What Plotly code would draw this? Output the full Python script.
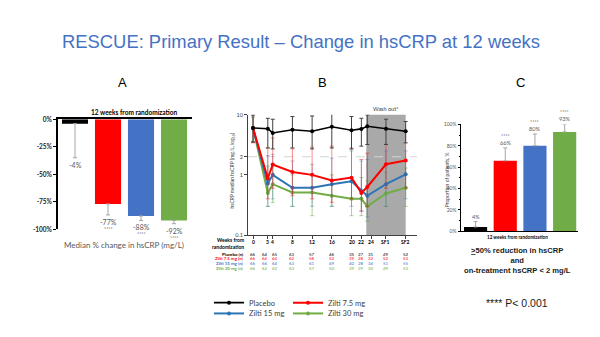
import plotly.graph_objects as go

W, H = 600, 337
def fx(p): return p / W
def fy(p): return 1 - p / H

ARIAL = "Liberation Sans, Arial, sans-serif"
CAL = "Lato, sans-serif"

# ---------------- data ----------------
groups = ["Placebo", "Zilti 7.5 mg", "Zilti 15 mg", "Zilti 30 mg"]
bar_colors = ["#000000", "#FF0000", "#4472C4", "#70AD47"]
line_colors = ["#000000", "#FF0000", "#2E75B6", "#70AD47"]
err_colors = ["#404040", "rgba(255,0,0,0.45)", "rgba(46,117,182,0.40)", "rgba(112,173,71,0.55)"]

# Panel A: median % change in hsCRP at 12 weeks
a_median_change = [-4, -77, -88, -92]
a_err_low = [-35, -87, -92, -95]
a_labels = ["-4%", "-77%", "-88%", "-92%"]
a_stars = ["", "****", "****", "****"]
a_ticks = [0, -25, -50, -75, -100]
a_ticktext = ["0%", "-25%", "-50%", "-75%", "-100%"]

# Panel B: hsCRP median over time (mg/L, log scale)
b_week_labels = ["0", "3", "4", "8", "12", "16", "20", "22", "24", "SF1", "SF2"]
b_week_ticks = [0, 3, 4, 8, 12, 16, 20, 22, 24, 27, 31]
b_week_points = [0, 3, 4, 8, 12, 16, 20, 22, 23.2, 27, 31]
washout = [23.0, 31]
hscrp_threshold = 2

placebo = [6.0, 5.85, 4.97, 5.6, 5.3, 6.3, 5.5, 5.8, 6.4, 5.85, 5.3]
placebo_hi = [9.9, 8.7, 8.4, 9.3, 9.5, 10.5, 9.3, 8.7, 9.9, 8.4, 7.7]
placebo_lo = [3.5, 2.8, 2.7, 2.8, 2.7, 2.8, 2.7, 3.0, 3.2, 3.2, 3.4]
z75 = [6.0, 0.88, 1.48, 1.12, 1.0, 0.81, 0.90, 0.50, 0.63, 1.5, 1.73]
z75_hi = [9.9, 2.8, 4.1, 2.7, 2.9, 3.0, 2.8, 1.8, 2.3, 3.2, 5.3]
z75_lo = [3.4, 0.40, 0.60, 0.45, 0.40, 0.35, 0.40, 0.25, 0.30, 0.60, 0.60]
z15 = [6.0, 0.72, 1.0, 0.61, 0.61, 0.70, 0.78, 0.54, 0.45, 0.70, 1.02]
z15_hi = [9.5, 2.1, 2.2, 1.7, 1.5, 1.9, 2.5, 1.7, 1.8, 2.5, 2.5]
z15_lo = [3.5, 0.30, 0.40, 0.30, 0.30, 0.30, 0.30, 0.25, 0.20, 0.30, 0.40]
z30 = [6.0, 0.50, 0.70, 0.51, 0.51, 0.45, 0.40, 0.40, 0.30, 0.49, 0.61]
z30_hi = [8.9, 1.4, 1.5, 1.0, 1.0, 1.0, 0.9, 0.9, 0.8, 1.1, 1.3]
z30_lo = [3.6, 0.30, 0.35, 0.30, 0.21, 0.30, 0.21, 0.21, 0.17, 0.30, 0.30]

n_placebo = [66, 64, 65, 63, 57, 46, 35, 27, 31, 49, 52]
n_z75 = [66, 64, 64, 62, 58, 52, 39, 28, 32, 52, 53]
n_z15 = [66, 66, 64, 63, 61, 49, 40, 28, 34, 51, 55]
n_z30 = [66, 62, 62, 63, 57, 50, 39, 29, 30, 49, 53]
n_row_labels = ["Placebo (n)", "Zilti 7.5 mg (n)", "Zilti 15 mg (n)", "Zilti 30 mg (n)"]

# Panel C: proportion achieving >=50% reduction and hsCRP < 2 mg/L
c_prop = [4, 66, 80, 93]
c_err_hi = [9, 78, 91, 100]
c_labels = ["4%", "66%", "80%", "93%"]
c_stars = ["", "****", "****", "****"]
c_ticks = [0, 20, 40, 60, 80, 100]
c_ticktext = ["0%", "20%", "40%", "60%", "80%", "100%"]

# ---------------- figure ----------------
fig = go.Figure()

# Panel A
fig.add_trace(go.Bar(
    x=list(range(4)), y=a_median_change, width=0.79,
    marker=dict(color=bar_colors, line=dict(width=0)),
    error_y=dict(type="data", symmetric=False, array=[0] * 4,
                 arrayminus=[v - lo for v, lo in zip(a_median_change, a_err_low)],
                 color="#A6A6A6", thickness=1, width=2),
    xaxis="x", yaxis="y", showlegend=False, hoverinfo="skip"))

# Panel B
series = [(placebo, placebo_hi, placebo_lo), (z75, z75_hi, z75_lo),
          (z15, z15_hi, z15_lo), (z30, z30_hi, z30_lo)]
legend_ids = ["legend", "legend2", "legend3", "legend4"]
for idx in [3, 2, 1, 0]:
    v, hi, lo = series[idx]
    fig.add_trace(go.Scatter(
        x=b_week_points, y=v, name=groups[idx], mode="lines+markers",
        line=dict(color=line_colors[idx], width=2 if idx else 1.6),
        marker=dict(color=line_colors[idx], size=4, symbol="circle"),
        error_y=dict(type="data", symmetric=False,
                     array=[h - m for h, m in zip(hi, v)],
                     arrayminus=[m - l for m, l in zip(v, lo)],
                     color=err_colors[idx], thickness=1, width=2),
        xaxis="x2", yaxis="y2", legend=legend_ids[idx], showlegend=True,
        hoverinfo="skip"))

# Panel C
fig.add_trace(go.Bar(
    x=list(range(4)), y=c_prop, width=0.78,
    marker=dict(color=bar_colors, line=dict(width=0)),
    error_y=dict(type="data", symmetric=False,
                 array=[h - v for h, v in zip(c_err_hi, c_prop)], arrayminus=[0] * 4,
                 color="#A6A6A6", thickness=1, width=2),
    xaxis="x3", yaxis="y3", showlegend=False, hoverinfo="skip"))

# ---------------- annotations ----------------
annotations = []
def ann(text, x, y, size, color="#000000", family=CAL, bold=False, xanchor="center",
        yanchor="middle", xref="paper", yref="paper", **kw):
    annotations.append(dict(text=text, x=x, y=y, xref=xref, yref=yref, showarrow=False,
                            xanchor=xanchor, yanchor=yanchor, borderpad=0,
                            font=dict(size=size, color=color, family=family,
                                      weight="bold" if bold else "normal"), **kw))

ann("RESCUE: Primary Result – Change in hsCRP at 12 weeks", fx(301), fy(38), 18.4,
    color="#4472C4", family=ARIAL)
for letter, px in zip(["A", "B", "C"], [122, 322, 520]):
    ann(letter, fx(px), fy(80), 13, family=ARIAL)

# Panel A texts
ann("12 weeks from randomization", fx(134), fy(110.5), 6.5, bold=True)
ann("Median % change in hsCRP (mg/L)", fx(124), fy(246), 8, color="#595959")
for i in range(4):
    ann(a_labels[i], i, a_err_low[i], 7, color="#595959", xref="x", yref="y",
        yanchor="top", yshift=-2)
    if a_stars[i]:
        ann(a_stars[i], i, a_err_low[i], 5, color="#595959", xref="x", yref="y",
            yanchor="top", yshift=-10)

# Panel B texts
ann("hsCRP median hsCRP (mg/L, log<sub>10</sub>)", fx(232), fy(170), 5, color="#404040",
    textangle=-90)
ann("Wash out*", (washout[0] + washout[1]) / 2, fy(107.5), 5.5, color="#404040", xref="x2")
ann("Weeks from<br>randomization", fx(245), fy(245), 5, bold=True, xanchor="right",
    align="right")
for i, lab in enumerate(b_week_labels):
    ann(lab, b_week_ticks[i], fy(243), 5, bold=True, xref="x2")
row_y = [255.5, 260.2, 264.9, 269.6]
for r, (lab, vals) in enumerate(zip(n_row_labels, [n_placebo, n_z75, n_z15, n_z30])):
    col = bar_colors[r]
    ann(lab, fx(245), fy(row_y[r]), 4.4, color=col, bold=True, xanchor="right")
    for i, n in enumerate(vals):
        shift = -2.5 if i == 1 else (2.5 if i == 2 else 0)
        ann(str(n), b_week_ticks[i], fy(row_y[r]), 4.4, color=col, xref="x2", xshift=shift)

# Panel C texts
ann("Proportion of patients, %", fx(447), fy(180), 5, color="#404040", textangle=-90)
for i in range(4):
    ann(c_labels[i], i, c_err_hi[i], 5.5, color="#595959", xref="x3", yref="y3",
        yanchor="bottom", yshift=1)
    if c_stars[i]:
        ann(c_stars[i], i, c_err_hi[i], 5, color="#595959", xref="x3", yref="y3",
            yanchor="bottom", yshift=8)
ann("12 weeks from randomization", fx(517), fy(238), 4.6, bold=True)
ann("<u>></u>50% reduction in hsCRP<br>and<br>on-treatment hsCRP &lt; 2 mg/L", fx(517),
    fy(261.5), 7.6, family=ARIAL, bold=True, color="#1A1A1A")
ann("**** P&lt; 0.001", fx(517), fy(305), 10.5, family=ARIAL, color="#1A1A1A")

# ---------------- shapes ----------------
shapes = [
    dict(type="rect", xref="x2", yref="y2 domain", x0=washout[0], x1=washout[1], y0=0, y1=1,
         fillcolor="#A9A9A9", line=dict(width=0), layer="below"),
    dict(type="line", xref="x2 domain", yref="y2", x0=0, x1=1,
         y0=hscrp_threshold, y1=hscrp_threshold,
         line=dict(color="#D3D3D3", width=1, dash="dash"), layer="below"),
]

leg_common = dict(bgcolor="rgba(0,0,0,0)", font=dict(size=7.5, color="#404040", family=CAL),
                  xanchor="left", yanchor="middle", itemwidth=30, borderwidth=0)

fig.update_layout(
    width=W, height=H, autosize=False,
    margin=dict(l=0, r=0, t=0, b=0),
    paper_bgcolor="white", plot_bgcolor="white",
    annotations=annotations, shapes=shapes,
    legend=dict(x=fx(209), y=fy(305), **leg_common),
    legend2=dict(x=fx(288), y=fy(305), **leg_common),
    legend3=dict(x=fx(209), y=fy(316), **leg_common),
    legend4=dict(x=fx(288), y=fy(316), **leg_common),
    xaxis=dict(domain=[fx(58), fx(192)], range=[-0.515, 3.545], anchor="y", side="top",
               showline=True, linecolor="black", linewidth=1.5, showticklabels=False,
               ticks="", showgrid=False, zeroline=False),
    yaxis=dict(domain=[fy(230), fy(117.7)], range=[-100, 0], anchor="x",
               showline=True, linecolor="black", linewidth=1.5, ticks="outside", ticklen=3,
               tickcolor="black", tickvals=a_ticks, ticktext=a_ticktext,
               tickfont=dict(size=6.5, family=CAL, color="#262626", weight="bold"),
               showgrid=False, zeroline=False),
    xaxis2=dict(domain=[fx(248), fx(417)], range=[-1.02, 33.3], anchor="y2",
                showline=True, linecolor="#404040", linewidth=1, ticks="outside", ticklen=3,
                tickcolor="#404040", tickvals=b_week_ticks, showticklabels=False,
                showgrid=False, zeroline=False),
    yaxis2=dict(domain=[fy(236), fy(113)], type="log", range=[-1, 1], anchor="x2",
                showline=True, linecolor="#404040", linewidth=1, ticks="outside", ticklen=3,
                tickcolor="#404040", tickvals=[0.1, 1, 2, 10], ticktext=["0.1", "1", "2", "10"],
                tickfont=dict(size=5.5, family=CAL, color="#404040"),
                showgrid=False, zeroline=False),
    xaxis3=dict(domain=[fx(461), fx(578)], range=[-0.49, 3.45], anchor="y3",
                showline=True, linecolor="black", linewidth=1, showticklabels=False, ticks="",
                showgrid=False, zeroline=False),
    yaxis3=dict(domain=[fy(232), fy(123)], range=[0, 100], anchor="x3",
                showline=True, linecolor="black", linewidth=1, ticks="outside", ticklen=2.5,
                tickcolor="black", tickvals=c_ticks, ticktext=c_ticktext,
                minor=dict(ticks="outside", ticklen=1.5, tickcolor="black",
                           tickvals=[10, 30, 50, 70, 90]),
                tickfont=dict(size=5, family=CAL, color="#595959"),
                showgrid=False, zeroline=False),
)

fig.write_html("out.html")
